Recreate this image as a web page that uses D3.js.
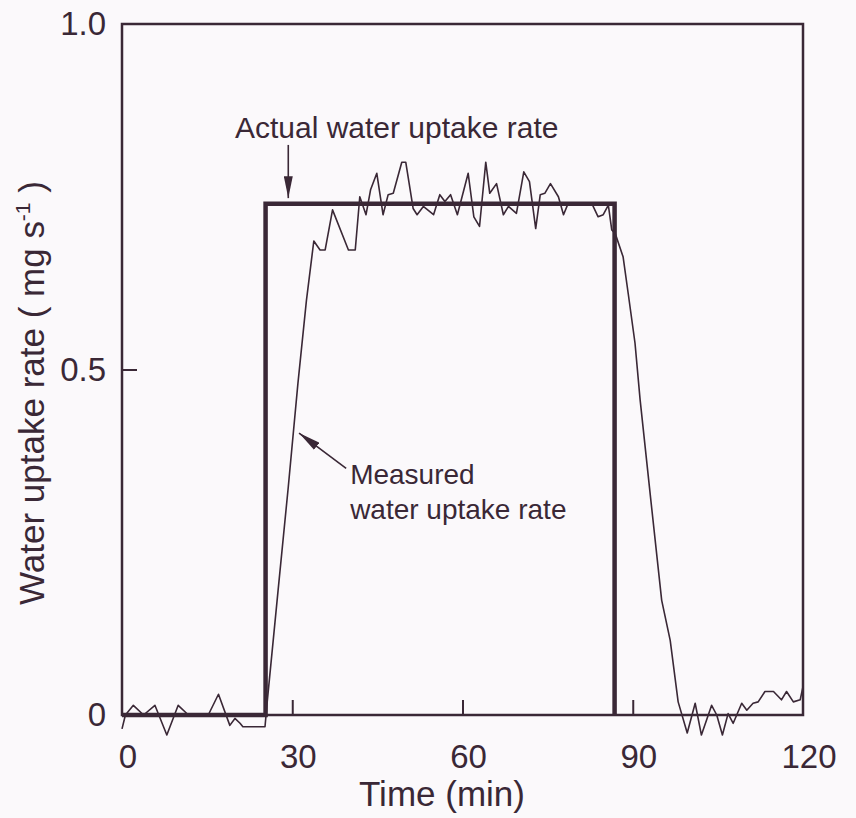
<!DOCTYPE html>
<html>
<head>
<meta charset="utf-8">
<script src="https://cdn.jsdelivr.net/npm/d3@7"></script>
<style>
  body { margin: 0; background: #fbf9fb; }
  svg { display: block; }
  text { font-family: "Liberation Sans", Arial, sans-serif; fill: #3a2836; }
</style>
</head>
<body>
<svg id="chart"></svg>
<script>
// ==========
// DATA
// ==========
var xTicks = [0, 30, 60, 90, 120];
var yTicks = [0, 0.5, 1.0];
var yTickLabels = ["0", "0.5", "1.0"];

// actual water uptake rate (step)
var actualT = [0, 25.3, 25.3, 86.8, 86.8];
var actualV = [0, 0, 0.74, 0.74, 0];

// measured water uptake rate
var measT = [0, 0.6, 2, 3.8, 5.8, 7.9, 9.9, 11.7, 15.2, 17, 19, 19.9, 20.8, 21.3, 25.2,
  25.6, 27.5, 29.3, 31, 32.5, 33.8, 34.9, 35.8, 37.1, 39.9, 41.1, 41.9, 43, 43.8, 44.9,
  46, 46.9, 47.8, 49.3, 50, 51.3, 52, 53.1, 54.9, 56, 56.9, 57.9, 59.1, 61, 62, 63,
  64.1, 64.8, 66, 67.2, 68.1, 69.5, 70.8, 71.8, 72.9, 73.7, 74.5, 75.5, 76.9, 77.8,
  78.6, 82.8, 83.9, 84.8, 85.7, 86.3, 86.9, 88.3, 89.2, 90.4, 91.3, 93.2, 95.1, 96.6,
  98, 99.6, 101, 102.1, 103.9, 104.8, 105.8, 106.8, 107.7, 109.2, 110.1, 111.2, 112.1,
  113.3, 114.8, 116.2, 117.1, 118.3, 119.5, 120];
var measV = [-0.02, 0, 0.014, 0, 0.014, -0.029, 0.014, 0, 0, 0.03, -0.015, -0.005, -0.012, -0.017, -0.017,
  0.02, 0.18, 0.33, 0.48, 0.6, 0.686, 0.673, 0.673, 0.731, 0.673, 0.673, 0.75, 0.724, 0.76, 0.784,
  0.724, 0.753, 0.755, 0.8, 0.8, 0.733, 0.724, 0.736, 0.724, 0.753, 0.743, 0.753, 0.724, 0.784, 0.721, 0.707,
  0.8, 0.755, 0.769, 0.724, 0.736, 0.726, 0.786, 0.772, 0.704, 0.753, 0.755, 0.769, 0.75, 0.724,
  0.74, 0.74, 0.721, 0.724, 0.738, 0.702, 0.697, 0.663, 0.61, 0.538, 0.456, 0.31, 0.166, 0.108,
  0.019, -0.026, 0.017, -0.029, 0.014, 0, -0.029, 0.002, -0.012, 0.017, 0.007, 0.017, 0.019,
  0.034, 0.034, 0.022, 0.034, 0.019, 0.022, 0.041];

// ==========
// SETUP
// ==========
var width = 856, height = 818;
var ink = "#3a2836";

var svg = d3.select("#chart").attr("width", width).attr("height", height);
svg.append("rect").attr("width", width).attr("height", height).attr("fill", "#fbf9fb");

var x = d3.scaleLinear().domain([0, 120]).range([122, 803]);
var y = d3.scaleLinear().domain([0, 1]).range([715, 24]);

// frame
svg.append("rect")
  .attr("x", x(0)).attr("y", y(1))
  .attr("width", x(120) - x(0)).attr("height", y(0) - y(1))
  .attr("fill", "none").attr("stroke", ink).attr("stroke-width", 2.5);

// inward ticks
var xAxis = d3.axisTop(x).tickValues([30, 60, 90]).tickSize(15).tickFormat("");
svg.append("g").attr("transform", "translate(0," + y(0) + ")").call(xAxis)
  .call(function (g) { g.select(".domain").remove(); })
  .selectAll("line").attr("stroke", ink).attr("stroke-width", 2);

var yAxis = d3.axisRight(y).tickValues([0.5]).tickSize(15).tickFormat("");
svg.append("g").attr("transform", "translate(" + x(0) + ",0)").call(yAxis)
  .call(function (g) { g.select(".domain").remove(); })
  .selectAll("line").attr("stroke", ink).attr("stroke-width", 2);

// tick labels
svg.append("g").selectAll("text").data(xTicks).enter().append("text")
  .attr("x", function (d) { return x(d) + 6; })
  .attr("y", 768)
  .attr("text-anchor", "middle")
  .attr("font-size", 33)
  .text(function (d) { return d; });

svg.append("g").selectAll("text").data(yTicks).enter().append("text")
  .attr("x", 106)
  .attr("y", function (d) { return y(d) + 11; })
  .attr("text-anchor", "end")
  .attr("font-size", 33)
  .text(function (d, i) { return yTickLabels[i]; });

// axis titles
svg.append("text")
  .attr("x", 442).attr("y", 806)
  .attr("text-anchor", "middle")
  .attr("font-size", 35)
  .text("Time (min)");

var ylab = svg.append("text")
  .attr("transform", "translate(44,393) rotate(-90)")
  .attr("text-anchor", "middle")
  .attr("font-size", 35);
ylab.append("tspan").text("Water uptake rate ( mg s");
ylab.append("tspan").attr("font-size", 21).attr("dy", -14).text("-1");
ylab.append("tspan").attr("dy", 14).text(" )");

// ==========
// LINES
// ==========
var line = d3.line()
  .x(function (d) { return x(d[0]); })
  .y(function (d) { return y(d[1]); });

var actual = actualT.map(function (t, i) { return [t, actualV[i]]; });
var measured = measT.map(function (t, i) { return [t, measV[i]]; });

svg.append("path").datum(measured)
  .attr("d", line)
  .attr("fill", "none").attr("stroke", ink).attr("stroke-width", 1.6)
  .attr("stroke-linejoin", "round");

svg.append("path").datum(actual)
  .attr("d", line)
  .attr("fill", "none").attr("stroke", ink).attr("stroke-width", 4.5)
  .attr("stroke-linejoin", "miter");

// ==========
// ANNOTATIONS
// ==========
svg.append("defs").append("marker")
  .attr("id", "arrow")
  .attr("viewBox", "0 0 10 10")
  .attr("refX", 10).attr("refY", 5)
  .attr("markerWidth", 22).attr("markerHeight", 9)
  .attr("markerUnits", "userSpaceOnUse")
  .attr("orient", "auto")
  .attr("preserveAspectRatio", "none")
  .append("path").attr("d", "M0,0 L10,5 L0,10 Z").attr("fill", ink);

svg.append("text")
  .attr("x", x(19.9)).attr("y", y(0.835))
  .attr("font-size", 30)
  .text("Actual water uptake rate");

svg.append("line")
  .attr("x1", x(29.3)).attr("y1", y(0.825))
  .attr("x2", x(29.3)).attr("y2", y(0.748))
  .attr("stroke", ink).attr("stroke-width", 1.6)
  .attr("marker-end", "url(#arrow)");

svg.append("line")
  .attr("x1", x(39.5)).attr("y1", y(0.357))
  .attr("x2", x(31.2)).attr("y2", y(0.408))
  .attr("stroke", ink).attr("stroke-width", 1.6)
  .attr("marker-end", "url(#arrow)");

svg.append("text")
  .attr("x", x(40.2)).attr("y", y(0.334))
  .attr("font-size", 28)
  .text("Measured");
svg.append("text")
  .attr("x", x(40.2)).attr("y", y(0.284))
  .attr("font-size", 28)
  .text("water uptake rate");
</script>
</body>
</html>
